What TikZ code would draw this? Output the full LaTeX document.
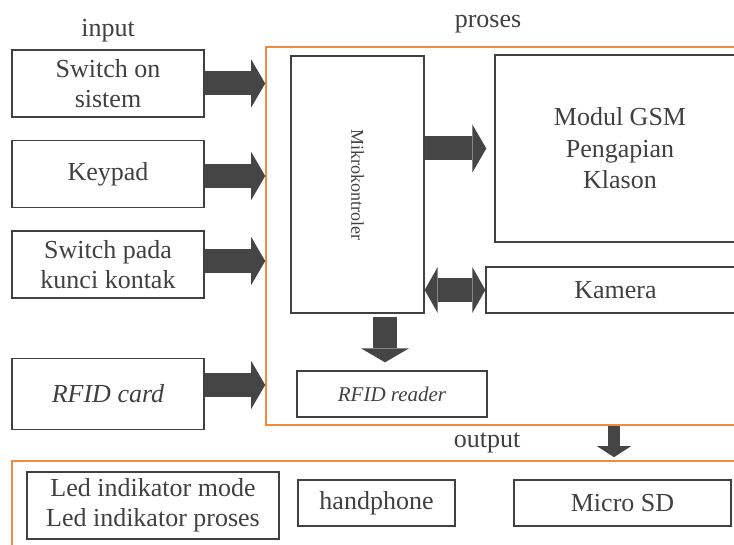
\documentclass[tikz,border=0pt]{standalone}
\usepackage{fontspec}
\setmainfont{Liberation Serif}
\usetikzlibrary{arrows.meta}

\definecolor{boxgray}{HTML}{404040}
\definecolor{arrowgray}{HTML}{454545}
\definecolor{frameorange}{HTML}{F08A3C}

\tikzset{
  blok/.style={draw=boxgray, line width=1.3pt, text=boxgray, inner sep=0pt, align=center,
    font=\fontsize{26}{30}\selectfont},
  bingkai/.style={draw=frameorange, line width=1.6pt, inner sep=0pt},
  judul/.style={text=boxgray, inner sep=0pt, font=\fontsize{26}{30}\selectfont},
  panah/.style={draw=arrowgray, line width=24pt,
    -{Triangle[length=14pt 0, width=48pt 0, line width=0pt 0]}},
  panahdua/.style={draw=arrowgray, line width=24pt,
    {Triangle[length=13pt 0, width=46pt 0, line width=0pt 0]}-{Triangle[length=13pt 0, width=46pt 0, line width=0pt 0]}},
  panahkecil/.style={draw=arrowgray, line width=12pt,
    -{Triangle[length=11pt 0, width=34pt 0, line width=0pt 0]}}
}

\begin{document}
\begin{tikzpicture}[x=1pt,y=-1pt]
\useasboundingbox (0,0) rectangle (734,545);
\clip (0,0) rectangle (734,545);

% kelompok input
\node[judul] (input) at (108,31) {input};
\node[blok, minimum width=192, minimum height=67] (sistem) at (108,83.5) {Switch on\\sistem};
\node[blok, minimum width=192, minimum height=67] (keypad) at (108,174) {Keypad};
\node[blok, minimum width=192, minimum height=67] (kontak) at (108,264.5) {Switch pada\\kunci kontak};
\node[blok, minimum width=192, minimum height=71] (kartu) at (108,394) {\itshape RFID card};

% kelompok proses
\node[judul] (proseslabel) at (488,24) {proses};
\node[bingkai, minimum width=479, minimum height=378] (proses) at (505.5,236) {};
\node[blok, minimum width=133, minimum height=257] (mikro) at (357.5,184.5) {};
\node[text=boxgray, rotate=-90, font=\fontsize{18}{20}\selectfont] (mikrotext) at (mikro.center) {Mikrokontroler};
\node[blok, minimum width=250, minimum height=187, font=\fontsize{26}{31.5}\selectfont] (gsm) at (620,148.5) {Modul GSM\\Pengapian\\Klason};
\node[blok, minimum width=259, minimum height=46] (kamera) at (615.5,290) {Kamera};
\node[blok, minimum width=190, minimum height=46, font=\fontsize{21}{25}\selectfont\itshape] (reader) at (392,394) {RFID reader};

% kelompok output
\node[judul] (outputlabel) at (487,443) {output};
\node[bingkai, minimum width=733, minimum height=99] (keluaran) at (378.5,510.5) {};
\node[blok, minimum width=252, minimum height=67] (led) at (153,505.5) {Led indikator mode\\Led indikator proses};
\node[blok, minimum width=157, minimum height=46] (hp) at (376.5,503) {handphone};
\node[blok, minimum width=217, minimum height=46] (sd) at (622.5,503) {Micro SD};

% panah
\draw[panah] (sistem.east) -- (sistem.east -| proses.west);
\draw[panah] ([yshift=-2pt]keypad.east) -- ([yshift=-2pt]keypad.east -| proses.west);
\draw[panah] ([yshift=3.5pt]kontak.east) -- ([yshift=3.5pt]kontak.east -| proses.west);
\draw[panah] ([yshift=9pt]kartu.east) -- ([yshift=9pt]kartu.east -| proses.west);
\draw[panah, shorten >=8pt] (mikro.east |- gsm.west) -- (gsm.west);
\draw[panahdua] (mikro.east |- kamera.west) -- (kamera.west);
\draw[panah, shorten <=3pt, shorten >=8pt] ([xshift=-7pt]reader.north |- mikro.south) -- ([xshift=-7pt]reader.north);
\draw[panahkecil, shorten >=3pt] ([xshift=-8.5pt]sd.north |- proses.south) -- ([xshift=-8.5pt]sd.north |- keluaran.north);
\end{tikzpicture}
\end{document}
